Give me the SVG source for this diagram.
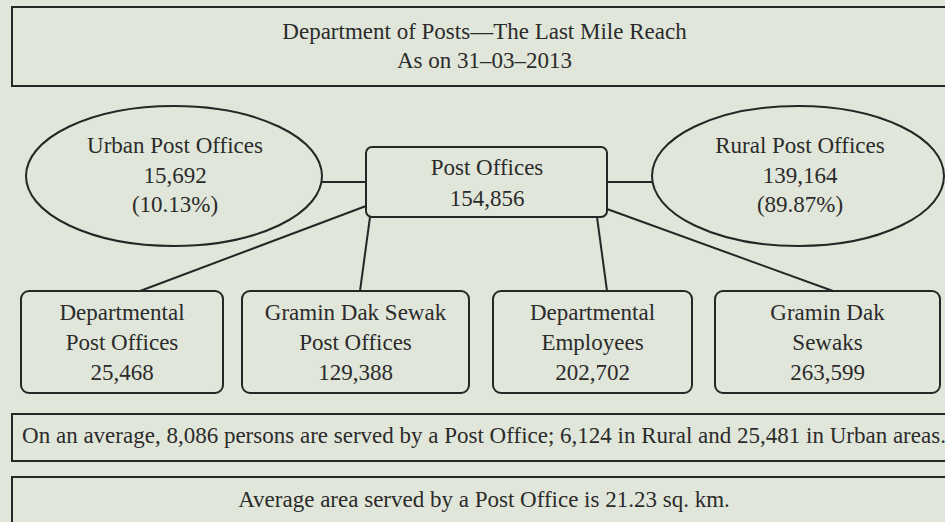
<svg xmlns="http://www.w3.org/2000/svg" width="945" height="522" viewBox="0 0 945 522">
<style>
text{font-family:"Liberation Serif","Times New Roman",serif;font-size:23px;fill:#2b2b2b;text-anchor:middle}
.box{fill:none;stroke:#262626;stroke-width:2}
.conn line{stroke:#262626;stroke-width:2}
</style>
<rect width="945" height="522" fill="#e1e6da"/>
<g id="title">
<rect class="box" x="12" y="7" width="945" height="79"/>
<text x="484.5" y="39">Department of Posts—The Last Mile Reach</text>
<text x="484.5" y="68">As on 31–03–2013</text>
</g>
<g class="conn" id="connectors">
<line x1="322" y1="182" x2="366" y2="182"/>
<line x1="607" y1="182" x2="652" y2="182"/>
<line x1="366" y1="206" x2="140" y2="291"/>
<line x1="370" y1="217" x2="360" y2="291"/>
<line x1="597" y1="217" x2="607" y2="291"/>
<line x1="607" y1="209" x2="833" y2="291"/>
</g>
<g id="urban">
<ellipse class="box" cx="174" cy="176" rx="148" ry="70"/>
<text x="175" y="153">Urban Post Offices</text>
<text x="175" y="183">15,692</text>
<text x="175" y="212">(10.13%)</text>
</g>
<g id="post-offices">
<rect class="box" x="366" y="147" width="241" height="70" rx="6"/>
<text x="487" y="175">Post Offices</text>
<text x="487" y="206">154,856</text>
</g>
<g id="rural">
<ellipse class="box" cx="798" cy="176" rx="146" ry="70"/>
<text x="800" y="153">Rural Post Offices</text>
<text x="800" y="183">139,164</text>
<text x="800" y="212">(89.87%)</text>
</g>
<g id="dept-po">
<rect class="box" x="21" y="291" width="202" height="102" rx="8"/>
<text x="122" y="320">Departmental</text>
<text x="122" y="350">Post Offices</text>
<text x="122" y="380">25,468</text>
</g>
<g id="gds-po">
<rect class="box" x="242" y="291" width="227" height="102" rx="8"/>
<text x="355.5" y="320">Gramin Dak Sewak</text>
<text x="355.5" y="350">Post Offices</text>
<text x="355.5" y="380">129,388</text>
</g>
<g id="dept-emp">
<rect class="box" x="493" y="291" width="199" height="102" rx="8"/>
<text x="592.5" y="320">Departmental</text>
<text x="592.5" y="350">Employees</text>
<text x="592.5" y="380">202,702</text>
</g>
<g id="gds">
<rect class="box" x="715" y="291" width="225" height="102" rx="8"/>
<text x="827.5" y="320">Gramin Dak</text>
<text x="827.5" y="350">Sewaks</text>
<text x="827.5" y="380">263,599</text>
</g>
<g id="persons">
<rect class="box" x="12" y="414" width="945" height="47"/>
<text x="484" y="443">On an average, 8,086 persons are served by a Post Office; 6,124 in Rural and 25,481 in Urban areas.</text>
</g>
<g id="area">
<rect class="box" x="12" y="477" width="945" height="60"/>
<text x="484" y="507">Average area served by a Post Office is 21.23 sq. km.</text>
</g>
</svg>
